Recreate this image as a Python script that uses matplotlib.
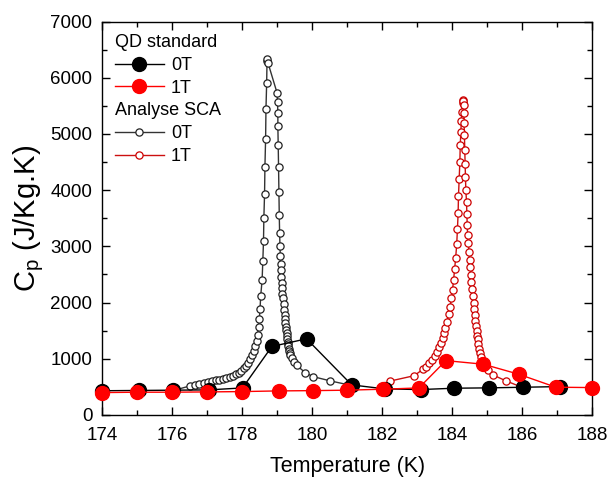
import matplotlib.pyplot as plt
from matplotlib.lines import Line2D
from matplotlib.ticker import MultipleLocator

plt.rcParams['font.family'] = ['Liberation Sans', 'DejaVu Sans']

# QD standard (filled markers)
qd0_T = [174.0, 175.05, 176.03, 177.04, 178.01, 178.85, 179.84, 181.13, 182.07, 183.1, 184.06, 185.04, 186.03, 187.07]
qd0_Cp = [430, 435, 440, 445, 480, 1218, 1354, 534, 463, 451, 475, 481, 492, 504]

qd1_T = [174.0, 174.99, 175.99, 177.0, 177.99, 179.04, 180.03, 181.0, 182.01, 183.05, 183.82, 184.89, 185.9, 186.96, 188.0]
qd1_Cp = [397, 404, 404, 409, 415, 427, 432, 440, 457, 480, 966, 902, 724, 493, 486]

# Analyse SCA (open markers)
sca0_T = [176.1, 176.51, 176.66, 176.78, 176.9, 177.02, 177.13, 177.24, 177.35, 177.46, 177.55,
          177.66, 177.74, 177.83, 177.91, 177.98, 178.05, 178.12, 178.18, 178.23, 178.28, 178.33,
          178.37, 178.41, 178.44, 178.47, 178.49, 178.51, 178.53, 178.57, 178.59, 178.61, 178.62,
          178.64, 178.65, 178.67, 178.68, 178.70, 178.71, 178.72, 178.74,
          179.0, 179.01, 179.02, 179.02, 179.03, 179.04, 179.05, 179.06, 179.07, 179.08, 179.09,
          179.1, 179.11, 179.12, 179.13, 179.14, 179.15, 179.17, 179.19, 179.2, 179.21, 179.22,
          179.23, 179.25, 179.26, 179.27, 179.28, 179.29, 179.3, 179.31, 179.32, 179.33, 179.34,
          179.36, 179.38, 179.42, 179.47, 179.56, 179.8, 180.02, 180.52, 181.0]
sca0_Cp = [445, 516, 540, 557, 575, 593, 605, 617, 628, 640, 658,
           676, 700, 724, 753, 788, 830, 877, 931, 991, 1062, 1144,
           1230, 1310, 1420, 1560, 1700, 1880, 2117, 2402, 2731, 3099, 3503,
           3930, 4403, 4917, 5440, 5904, 6290, 6340, 6260,
           5724, 5564, 5374, 5137, 4799, 4410, 3973, 3559, 3244, 3007, 2835,
           2692, 2575, 2461, 2354, 2254, 2160, 2076, 1970, 1868, 1779, 1703,
           1632, 1566, 1507, 1454, 1400, 1352, 1304, 1263, 1222, 1180, 1144,
           1103, 1062, 1010, 948, 880, 753, 682, 605, 540]

sca1_T = [182.0, 182.21, 182.91, 183.17, 183.25, 183.34, 183.42, 183.5, 183.56, 183.63, 183.69,
          183.74, 183.77, 183.8, 183.85, 183.9, 183.94, 183.98, 184.01, 184.04, 184.07, 184.1,
          184.13, 184.15, 184.17, 184.18, 184.2, 184.22, 184.23, 184.25, 184.26, 184.28, 184.3,
          184.31, 184.32,
          184.33, 184.34, 184.34, 184.35, 184.36, 184.37, 184.38, 184.39, 184.41, 184.42, 184.43,
          184.44, 184.46, 184.48, 184.5, 184.52, 184.54, 184.55, 184.57, 184.59, 184.61, 184.62,
          184.64, 184.66, 184.68, 184.7, 184.72, 184.73, 184.75, 184.77, 184.79, 184.82, 184.86,
          184.92, 185.01, 185.16, 185.54, 186.0]
sca1_Cp = [470, 600, 697, 813, 860, 920, 979, 1050, 1126, 1204, 1287,
           1376, 1454, 1553, 1660, 1792, 1927, 2076, 2224, 2402, 2593, 2799,
           3037, 3304, 3589, 3897, 4199, 4507, 4804, 5041, 5237, 5397, 5546,
           5605, 5590,
           5516, 5368, 5190, 4982, 4715, 4466, 4229, 4004, 3785, 3577, 3381,
           3203, 3055, 2906, 2758, 2628, 2491, 2361, 2237, 2117, 1998, 1886,
           1779, 1678, 1584, 1495, 1406, 1347, 1258, 1174, 1098, 1027, 961,
           890, 800, 712, 605, 490]

fig = plt.figure(figsize=(6.08, 4.78), dpi=100)
ax = fig.add_axes([0.168, 0.132, 0.806, 0.823])

ax.plot(sca0_T, sca0_Cp, color='#333333', lw=1, marker='o', ms=5.2, mfc='white',
        mec='#222222', mew=0.9, clip_on=False, zorder=2)
ax.plot(sca1_T, sca1_Cp, color='#cc1010', lw=1, marker='o', ms=5.2, mfc='white',
        mec='#cc0000', mew=0.9, clip_on=False, zorder=2)
ax.plot(qd0_T, qd0_Cp, color='black', lw=1, marker='o', ms=10, mfc='black',
        mec='black', clip_on=False, zorder=3)
ax.plot(qd1_T, qd1_Cp, color='#ff0000', lw=1, marker='o', ms=10, mfc='#ff0000',
        mec='#ff0000', clip_on=False, zorder=4)

ax.set_xlim(174, 188)
ax.set_ylim(0, 7000)
ax.xaxis.set_major_locator(MultipleLocator(2))
ax.xaxis.set_minor_locator(MultipleLocator(1))
ax.yaxis.set_major_locator(MultipleLocator(1000))
ax.yaxis.set_minor_locator(MultipleLocator(500))
ax.tick_params(which='both', direction='in', top=True, right=True, labelsize=13.5, width=1)
ax.tick_params(which='major', length=6)
ax.tick_params(which='minor', length=3.5)
ax.tick_params(axis='x', which='major', pad=9)
ax.tick_params(axis='y', which='major', pad=7)
for s in ax.spines.values():
    s.set_linewidth(1)

ax.set_xlabel('Temperature (K)', fontsize=15.5, labelpad=8)
ax.set_ylabel('C$_\\mathregular{p}$ (J/Kg.K)', fontsize=21, labelpad=3)

blank = Line2D([], [], linestyle='none')
handles = [
    blank,
    Line2D([], [], color='black', lw=1, marker='o', ms=10, mfc='black', mec='black'),
    Line2D([], [], color='#ff0000', lw=1, marker='o', ms=10, mfc='#ff0000', mec='#ff0000'),
    blank,
    Line2D([], [], color='#333333', lw=1, marker='o', ms=5.2, mfc='white', mec='#222222', mew=0.9),
    Line2D([], [], color='#cc1010', lw=1, marker='o', ms=5.2, mfc='white', mec='#cc0000', mew=0.9),
]
labels = ['QD standard', '0T', '1T', 'Analyse SCA', '0T', '1T']
leg = ax.legend(handles, labels, loc='upper left', frameon=False, fontsize=13,
                handlelength=2.7, handletextpad=0.4, labelspacing=0.32,
                borderaxespad=0.3, bbox_to_anchor=(0.0, 1.0))

# header rows: drop the empty handle so the text starts at the handle column
for vpack in leg._legend_handle_box.get_children():
    for i, hpack in enumerate(vpack.get_children()):
        if labels[i] in ('QD standard', 'Analyse SCA'):
            da = hpack.get_children()[0]
            da.width = 0
            hpack.sep = 0

fig.savefig('out.png', dpi=100)
